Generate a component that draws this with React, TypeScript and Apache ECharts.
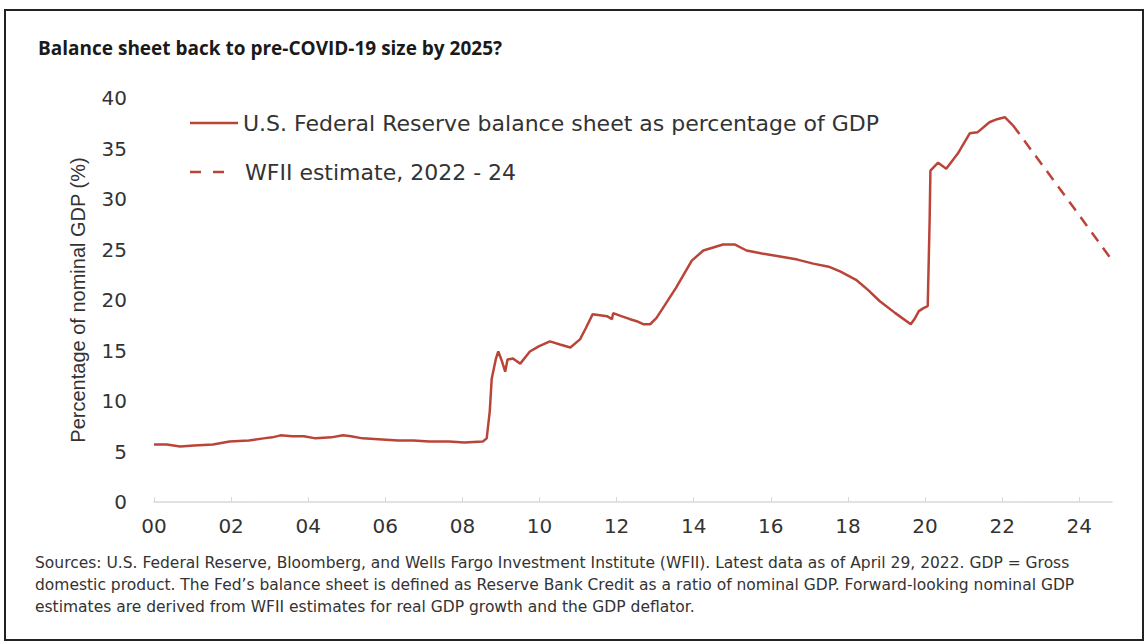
import React, { useEffect, useRef } from "react";
import * as echarts from "echarts";

const titleText = "Balance sheet back to pre-COVID-19 size by 2025?";
const seriesNames = [
  "U.S. Federal Reserve balance sheet as percentage of GDP",
  "WFII estimate, 2022 - 24",
];
const yAxisName = "Percentage of nominal GDP (%)";
const footnoteLines = [
  "Sources: U.S. Federal Reserve, Bloomberg, and Wells Fargo Investment Institute (WFII). Latest data as of April 29, 2022. GDP = Gross",
  "domestic product. The Fed\u2019s balance sheet is defined as Reserve Bank Credit as a ratio of nominal GDP. Forward-looking nominal GDP",
  "estimates are derived from WFII estimates for real GDP growth and the GDP deflator.",
];

// x = years since 2000, y = % of nominal GDP
const histYears = [
  0.0, 0.33, 0.68, 1.04, 1.53, 1.96, 2.46, 2.84, 3.07, 3.28, 3.58, 3.89, 4.19, 4.6, 4.9, 5.11, 5.41, 5.92,
  6.33, 6.73, 7.14, 7.65, 8.05, 8.53, 8.63, 8.71, 8.76, 8.87, 8.93, 9.02, 9.11, 9.17, 9.31, 9.5, 9.75,
  9.98, 10.27, 10.53, 10.8, 11.05, 11.2, 11.38, 11.75, 11.88, 11.91, 12.12, 12.35, 12.52, 12.69, 12.87,
  13.03, 13.2, 13.54, 13.95, 14.25, 14.76, 15.06, 15.37, 15.77, 16.24, 16.69, 17.1, 17.5, 17.81, 18.21,
  18.52, 18.82, 19.23, 19.63, 19.74, 19.84, 19.96, 20.07, 20.12, 20.14, 20.34, 20.55, 20.85, 21.16,
  21.36, 21.67, 21.87, 22.07, 22.28,
];
const histValues = [
  5.7, 5.7, 5.5, 5.6, 5.7, 6.0, 6.1, 6.3, 6.4, 6.6, 6.5, 6.5, 6.3, 6.4, 6.6, 6.5, 6.3, 6.2,
  6.1, 6.1, 6.0, 6.0, 5.9, 6.0, 6.3, 9.0, 12.2, 14.2, 14.9, 14.0, 12.9, 14.1, 14.2, 13.7, 14.9,
  15.4, 15.9, 15.6, 15.3, 16.1, 17.2, 18.6, 18.4, 18.1, 18.7, 18.4, 18.1, 17.9, 17.6, 17.6,
  18.2, 19.2, 21.2, 23.9, 24.9, 25.5, 25.5, 24.9, 24.6, 24.3, 24.0, 23.6, 23.3, 22.8, 22.0,
  21.0, 19.9, 18.7, 17.6, 18.2, 18.9, 19.2, 19.4, 28.0, 32.8, 33.6, 33.0, 34.5, 36.5,
  36.6, 37.6, 37.9, 38.1, 37.3,
];
const estYears = [22.28, 23.5, 24.8];
const estValues = [37.3, 31.0, 24.2];

const xTicks = [0, 2, 4, 6, 8, 10, 12, 14, 16, 18, 20, 22, 24];
const xMin = 0;
const xMax = 24.85;
const yMin = 0;
const yMax = 40;
const yStep = 5;

const RED = "#bb4439";
const FONT = "DejaVu Sans";

export default function App() {
  const ref = useRef<HTMLDivElement>(null);
  useEffect(() => {
    if (!ref.current) return;
    const chart = echarts.init(ref.current, null, { renderer: "svg" });
    const hist = histYears.map((x, i) => [x, histValues[i]]);
    const est = estYears.map((x, i) => [x, estValues[i]]);
    chart.setOption({
      animation: false,
      backgroundColor: "#ffffff",
      grid: { left: 154, right: 36, top: 98, bottom: 142, containLabel: false },
      xAxis: {
        type: "value",
        min: xMin,
        max: xMax,
        splitLine: { show: false },
        axisLine: { show: true, lineStyle: { color: "#d8d8d8", width: 1.5 } },
        axisTick: { show: true, inside: true, length: 5, customValues: xTicks, lineStyle: { color: "#d8d8d8" } },
        axisLabel: {
          customValues: xTicks,
          margin: 14,
          fontFamily: FONT,
          fontSize: 20,
          color: "#333",
          formatter: (v: number) => String(Math.round(v)).padStart(2, "0"),
        },
      },
      yAxis: {
        type: "value",
        min: yMin,
        max: yMax,
        interval: yStep,
        name: yAxisName,
        nameLocation: "middle",
        nameGap: 66,
        nameTextStyle: { fontFamily: "Liberation Sans", fontSize: 20, color: "#333" },
        splitLine: { show: false },
        axisLine: { show: false },
        axisTick: { show: false },
        axisLabel: { margin: 27, fontFamily: FONT, fontSize: 20, color: "#333" },
      },
      series: [
        {
          name: seriesNames[0],
          type: "line",
          data: hist,
          showSymbol: false,
          symbol: "none",
          lineStyle: { color: RED, width: 2.5 },
          itemStyle: { color: RED },
        },
        {
          name: seriesNames[1],
          type: "line",
          data: est,
          showSymbol: false,
          symbol: "none",
          lineStyle: { color: RED, width: 2.5, type: [11, 8] },
          itemStyle: { color: RED },
        },
      ],
      graphic: [
        {
          type: "rect",
          shape: { x: 5, y: 10, width: 1138, height: 630 },
          style: { fill: "none", stroke: "#222", lineWidth: 2 },
          silent: true,
        },
        {
          type: "text",
          x: 38,
          y: 48,
          style: {
            text: titleText,
            fontFamily: "Open Sans",
            fontWeight: "bold",
            fontSize: 19,
            fill: "#1a1a1a",
            verticalAlign: "middle",
          },
        },
        {
          type: "line",
          shape: { x1: 190, y1: 123, x2: 238, y2: 123 },
          style: { stroke: RED, lineWidth: 2.5 },
        },
        {
          type: "text",
          x: 243,
          y: 123,
          style: { text: seriesNames[0], fontFamily: FONT, fontSize: 22, fill: "#333", verticalAlign: "middle" },
        },
        {
          type: "line",
          shape: { x1: 190, y1: 172, x2: 224, y2: 172 },
          style: { stroke: RED, lineWidth: 2.5, lineDash: [11, 12] },
        },
        {
          type: "text",
          x: 245,
          y: 172,
          style: { text: seriesNames[1], fontFamily: FONT, fontSize: 22, fill: "#333", verticalAlign: "middle" },
        },
        ...footnoteLines.map((t, i) => ({
          type: "text",
          x: 35,
          y: 563 + i * 22,
          style: {
            text: t,
            fontFamily: FONT,
            fontSize: 15.5,
            fill: "#333",
            verticalAlign: "middle",
          },
        })),
      ],
    });
    return () => chart.dispose();
  }, []);
  return (
    <div
      ref={ref}
      style={{ position: "fixed", left: 0, top: 0, width: 1148, height: 644 }}
    />
  );
}
